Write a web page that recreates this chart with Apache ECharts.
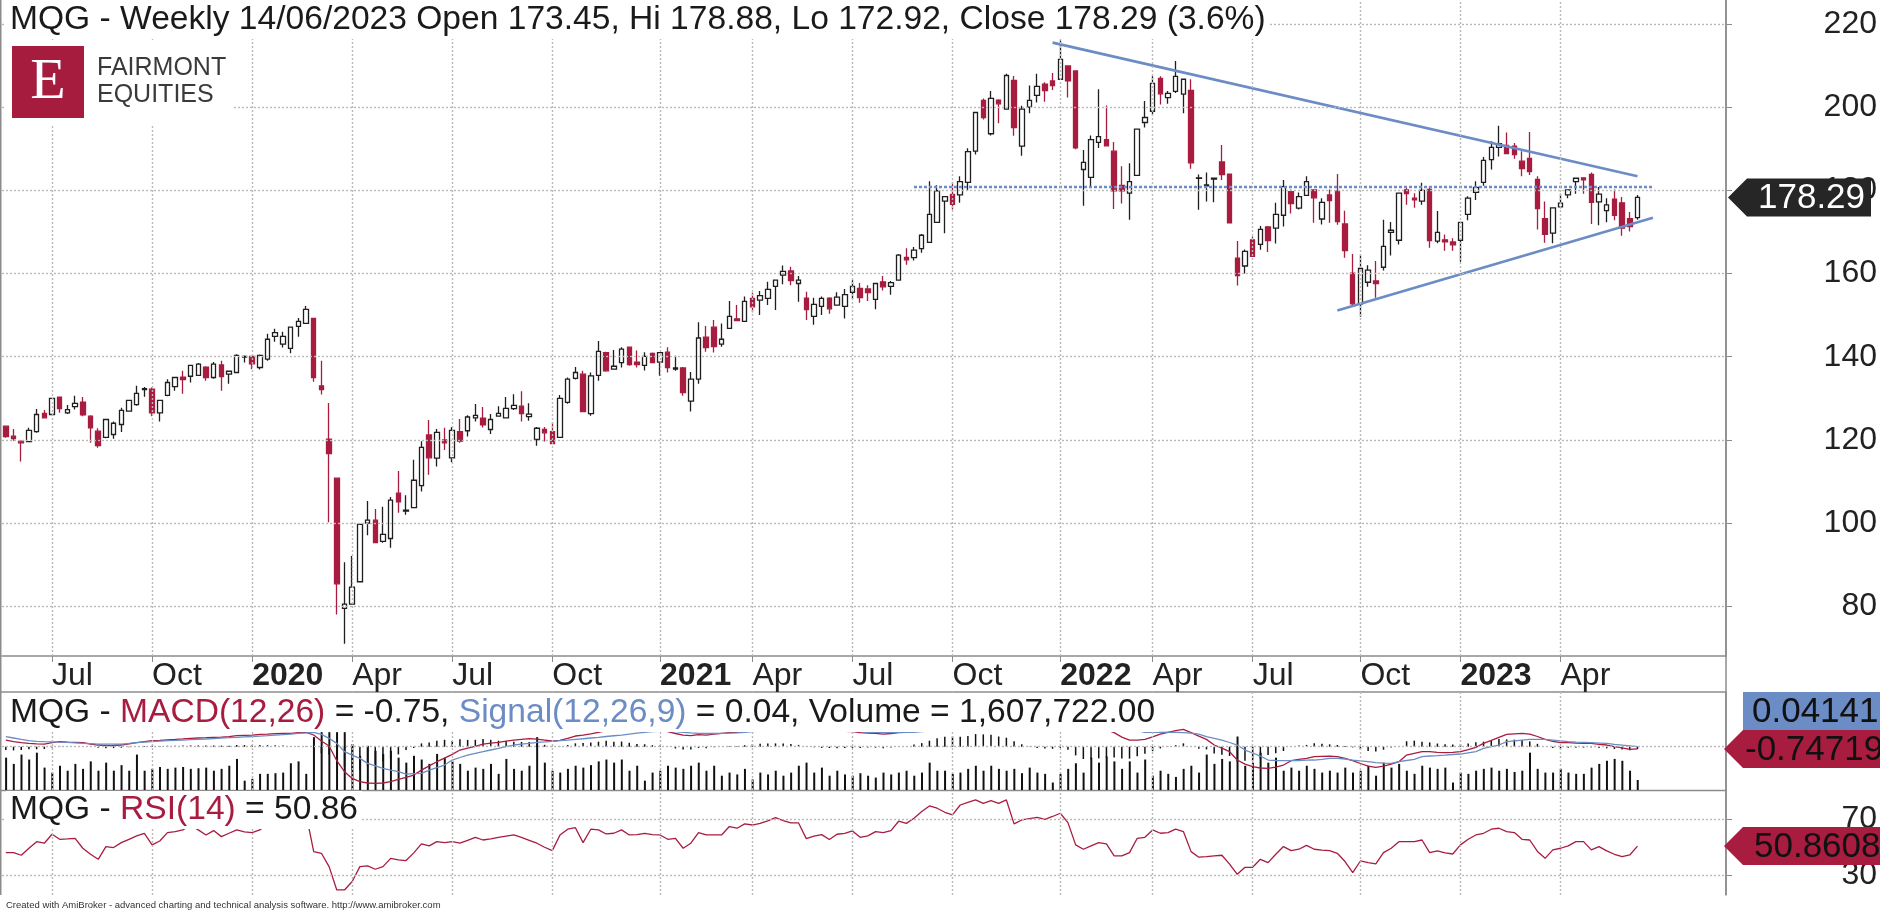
<!DOCTYPE html>
<html>
<head>
<meta charset="utf-8">
<title>MQG - Weekly</title>
<script src="https://cdn.jsdelivr.net/npm/echarts@6/dist/echarts.min.js"></script>
<style>
  html, body { margin: 0; padding: 0; background: #fff; }
  #main { width: 1880px; height: 911px; }
</style>
</head>
<body>
<div id="main"></div>
<script>
// weekly bars, first bar = week of 20/05/2019, last bar = week of 12/06/2023
const START_WEEK = '2019-05-20'
const N_SLOTS = 224 // 213 bars + blank weeks on the right

// quarter marks on the time axis (bar index -> label)
const TICK_INDEX = [6, 19, 32, 45, 58, 71, 85, 97, 110, 123, 137, 149, 162, 176, 189, 202]
const TICK_LABEL = ['Jul', 'Oct', '2020', 'Apr', 'Jul', 'Oct', '2021', 'Apr', 'Jul', 'Oct', '2022', 'Apr', 'Jul', 'Oct', '2023', 'Apr']

const PRICE_TICKS = [80, 100, 120, 140, 160, 180, 200, 220]
const RSI_TICKS = [30, 70]

const OPEN = [
  123.3,120.9,119.7,119.6,122.0,126.4,126.1,130.3,126.5,128.0,
  129.1,125.7,122.1,120.6,121.3,123.7,126.9,128.5,132.1,132.2,
  126.5,130.7,132.8,135.1,135.3,135.5,137.5,135.0,138.0,135.8,
  136.2,139.9,140.1,137.4,139.4,144.9,143.0,142.0,147.3,148.0,
  149.2,133.0,120.2,110.8,79.5,80.5,85.9,100.0,100.7,95.6,
  96.3,107.2,102.9,103.7,109.0,121.2,115.6,120.0,115.7,122.0,
  122.2,125.3,125.2,122.5,125.7,125.3,127.5,128.1,125.6,120.1,
  122.5,122.0,120.6,129.0,134.8,135.8,126.3,135.5,141.0,137.0,
  138.6,142.3,138.7,137.9,140.8,138.7,141.1,137.0,137.3,129.3,
  134.6,144.7,147.1,143.0,146.8,149.1,148.5,154.0,153.6,154.0,
  156.9,159.6,160.6,157.6,154.1,149.7,152.1,154.1,152.4,152.1,
  155.5,156.4,156.3,153.8,158.0,156.9,158.4,163.9,163.8,166.0,
  167.5,172.3,177.4,179.0,178.9,181.9,189.4,201.6,193.6,201.7,
  199.5,206.4,190.6,200.0,202.8,205.5,206.3,206.7,209.9,208.7,
  185.0,183.1,191.5,192.2,189.4,181.2,179.3,183.6,196.3,199.0,
  206.9,202.3,203.8,203.1,204.0,182.9,181.1,182.7,186.8,183.9,
  163.7,161.8,168.1,167.0,171.2,170.9,174.0,179.7,175.7,178.8,
  180.1,173.1,178.9,179.8,171.9,160.1,152.7,157.9,158.2,161.5,
  169.9,168.0,180.1,178.1,177.4,180.2,167.8,168.1,167.6,168.0,
  174.2,179.5,181.9,187.4,190.3,190.8,190.6,187.0,187.7,182.6,
  173.2,169.7,176.0,178.9,182.1,183.0,183.8,177.2,175.1,177.9,
  177.0,173.2,173.45
]
const HIGH = [
  123.3,122.6,119.7,122.9,127.4,127.2,130.1,130.3,128.4,130.6,
  130.3,125.9,122.8,124.9,124.4,127.7,129.5,133.0,132.7,132.6,
  129.5,134.6,135.0,136.6,137.9,138.5,137.7,138.7,139.0,136.7,
  140.6,140.3,140.1,140.5,145.5,146.7,146.0,147.1,149.3,152.2,
  149.2,139.0,128.9,110.8,90.6,92.1,99.7,105.3,103.4,103.9,
  106.3,112.5,106.7,115.2,119.7,124.8,122.6,122.9,123.1,125.0,
  125.9,128.6,127.9,126.2,128.1,130.3,131.0,131.7,128.8,123.1,
  123.1,124.2,130.8,135.0,137.5,136.6,136.2,143.8,141.2,141.6,
  142.3,142.3,141.5,141.1,141.0,141.0,142.3,140.2,137.5,136.3,
  148.3,147.4,148.8,148.0,153.4,152.4,154.5,155.4,155.8,158.0,
  158.4,161.9,161.6,159.4,155.6,154.2,154.5,154.3,155.5,156.3,
  158.4,157.7,157.2,157.6,159.4,158.2,164.7,166.1,166.4,169.5,
  182.2,181.2,178.5,181.9,183.4,190.1,198.7,202.1,203.9,201.9,
  208.0,207.5,200.3,205.2,208.0,206.0,208.2,216.0,209.9,208.7,
  189.7,193.2,204.3,200.4,191.6,185.8,186.5,194.7,201.5,207.4,
  207.4,203.9,211.1,206.7,206.7,183.8,184.3,183.1,190.9,183.9,
  167.8,165.8,168.9,171.4,171.4,177.0,182.5,180.2,179.5,183.4,
  180.1,178.1,180.2,183.9,175.1,164.7,164.4,162.0,163.0,172.9,
  172.4,179.3,180.7,179.3,181.8,181.0,175.0,169.4,168.5,172.3,
  178.6,182.2,188.0,191.8,195.5,193.9,191.4,189.4,194.0,183.4,
  177.3,175.8,179.2,180.1,182.9,183.0,184.3,180.8,178.1,180.2,
  178.4,174.8,178.88
]
const LOW = [
  120.5,119.8,114.8,119.5,121.7,125.3,126.0,126.5,126.2,127.3,
  125.7,119.3,118.1,120.4,120.3,121.9,126.9,128.2,130.4,125.7,
  124.4,130.5,131.8,131.1,133.8,135.5,134.2,134.7,131.8,133.5,
  136.2,138.6,137.0,136.9,139.0,143.6,142.2,140.8,144.8,148.0,
  134.0,130.9,100.2,78.0,71.0,80.5,85.9,97.1,95.3,95.3,
  94.1,102.5,102.0,103.7,107.6,111.6,113.6,117.6,114.6,119.3,
  120.8,124.4,123.0,121.4,125.7,125.3,127.2,124.4,124.6,118.6,
  119.6,119.1,120.6,128.7,134.5,126.8,125.8,134.2,136.4,137.0,
  137.4,137.8,137.4,136.7,138.6,135.4,136.2,136.6,130.6,126.8,
  133.5,141.2,141.0,142.4,146.8,148.7,148.5,150.7,150.0,152.4,
  151.2,157.4,157.2,153.2,148.8,147.7,150.0,150.3,152.4,149.2,
  153.9,153.0,153.4,151.4,155.9,154.9,158.3,162.1,163.1,165.0,
  167.5,172.3,169.7,175.4,177.0,179.9,188.6,197.0,193.2,196.1,
  199.5,193.1,188.3,198.5,201.1,201.3,204.1,206.7,202.3,189.9,
  176.3,180.7,190.2,190.7,175.5,176.8,172.9,183.6,195.1,198.2,
  200.6,200.8,203.4,198.5,185.2,175.3,177.3,177.1,182.5,172.2,
  157.1,160.0,164.1,165.7,165.2,167.2,171.3,174.4,175.4,178.8,
  172.2,171.8,172.2,171.7,163.8,152.0,149.6,156.8,154.2,160.7,
  164.3,167.0,176.5,175.8,176.5,166.2,167.3,165.5,165.5,162.8,
  172.8,177.7,181.1,185.0,188.1,188.8,187.6,183.4,183.7,170.6,
  167.4,167.3,175.7,178.1,179.2,179.2,171.9,171.6,172.3,172.8,
  169.1,170.1,172.92
]
const CLOSE = [
  120.8,120.3,119.3,122.3,126.1,125.3,130.0,127.5,127.3,128.8,
  126.0,122.9,118.6,124.9,124.0,127.1,129.5,131.2,132.3,126.5,
  129.5,133.8,135.0,134.5,137.9,138.2,135.0,138.2,135.2,136.5,
  140.3,140.1,138.3,140.3,144.2,145.8,144.9,147.1,148.5,151.4,
  135.0,132.1,116.7,85.4,80.5,84.6,99.7,100.7,95.3,97.3,
  105.5,105.1,103.1,110.3,118.2,115.7,121.8,119.3,122.3,119.7,
  125.5,125.9,123.6,124.9,126.4,127.6,128.3,126.3,126.2,122.8,
  121.7,119.1,130.0,134.6,136.2,126.8,135.4,141.3,136.6,137.7,
  141.8,138.1,138.1,140.1,138.6,141.0,137.4,137.3,131.4,134.6,
  144.5,142.2,142.4,144.2,149.7,148.7,153.3,152.0,154.7,156.2,
  158.4,160.5,158.3,158.4,151.3,152.6,154.0,151.5,154.3,154.9,
  156.9,154.2,155.4,157.6,156.8,157.8,164.4,163.3,165.6,169.2,
  174.2,179.9,178.5,176.6,182.1,189.3,198.7,197.5,202.1,200.8,
  207.6,195.1,199.5,201.6,205.0,204.0,205.2,211.5,206.3,190.2,
  186.7,192.2,192.9,190.7,179.9,179.9,182.1,194.7,197.5,205.7,
  203.2,203.3,207.4,206.7,186.6,183.0,181.3,182.9,183.8,172.2,
  159.5,165.3,164.1,170.6,167.9,174.2,180.9,176.8,178.5,182.1,
  178.2,177.1,177.5,172.5,165.5,152.7,161.2,160.8,157.6,166.5,
  170.4,179.3,179.2,177.7,180.0,167.9,169.9,167.6,166.9,172.3,
  178.1,180.7,187.2,190.3,191.2,188.8,188.6,185.2,184.5,175.6,
  169.4,175.8,176.9,180.1,182.9,182.5,177.1,179.1,176.5,174.0,
  170.9,171.3,178.29
]

// volume, millions of shares
const VOLUME = [
  5.2,4.2,5.7,4.9,6.0,3.6,2.8,3.9,3.1,4.2,
  3.4,4.6,3.1,4.4,3.1,4.0,3.1,5.7,3.1,3.4,
  3.7,3.4,3.6,3.7,3.4,3.5,3.6,3.1,3.4,3.9,
  5.0,1.5,1.8,2.6,2.6,2.7,2.8,4.3,4.6,2.6,
  8.5,9.3,9.3,9.3,9.3,7.4,5.5,7.1,6.3,5.8,
  6.3,5.2,4.4,5.5,4.9,4.2,5.8,5.2,4.6,4.2,
  3.1,3.6,3.4,4.2,2.6,5.0,3.4,3.1,3.9,8.5,
  4.4,3.1,2.8,3.4,3.9,3.6,4.0,4.6,4.9,4.4,
  4.9,3.1,3.9,1.5,2.8,3.1,3.9,3.6,3.4,3.9,
  4.4,3.1,3.9,2.3,2.8,2.5,3.4,1.7,2.8,2.5,
  3.1,2.3,2.8,3.9,4.4,2.8,3.6,2.3,3.1,2.5,
  2.3,2.7,2.3,2.0,2.8,2.5,2.8,3.1,2.3,2.8,
  4.4,3.1,3.1,2.6,2.8,3.4,3.9,3.1,3.9,3.4,
  3.1,3.4,2.7,3.6,2.8,2.6,1.2,2.6,3.4,4.3,
  2.8,5.2,4.4,5.4,4.6,3.4,4.6,2.8,4.9,2.3,
  3.1,2.6,2.1,3.4,3.9,2.8,5.7,4.2,5.0,4.6,
  8.6,3.9,4.4,6.0,4.4,5.2,3.1,3.6,3.1,3.9,
  3.4,2.8,3.1,2.8,3.6,2.8,3.1,3.9,2.3,4.4,
  3.6,4.2,3.1,2.6,3.9,3.6,3.4,3.6,1.2,2.8,
  2.6,3.1,3.4,3.6,3.1,3.4,2.9,3.1,6.0,3.4,
  2.8,2.8,3.4,2.8,2.6,2.6,3.6,4.2,4.7,5.0,
  4.7,3.1,1.61
]

const MACD = [
  2.22,1.67,1.35,1.11,0.95,0.89,1.33,1.67,1.55,1.44,
  1.33,0.9,0.56,0.33,0.4,0.56,0.95,1.33,1.7,2.0,
  2.1,2.3,2.44,2.6,2.78,2.9,3.0,3.11,3.2,3.33,
  3.67,3.8,3.89,4.11,4.2,4.33,4.4,4.44,4.67,4.78,
  3.9,1.9,0.22,-4.67,-8.33,-10.56,-11.67,-12.1,-12.2,-12.1,
  -11.67,-10.9,-10.2,-9.44,-7.8,-6.4,-5.0,-3.8,-2.56,-1.11,
  -0.5,0.1,0.89,1.2,1.44,1.89,2.2,2.44,2.67,2.5,
  2.22,1.9,2.1,2.78,3.56,3.89,4.3,4.78,5.4,5.3,
  5.6,5.5,5.4,5.6,5.5,5.5,5.0,4.4,3.89,3.67,
  4.0,3.89,4.2,4.44,4.67,4.78,5.3,5.8,6.2,6.5,
  6.8,7.0,7.0,6.8,6.3,5.9,5.6,5.4,5.2,5.1,
  5.0,4.67,4.55,4.44,4.22,4.4,4.67,4.78,5.5,6.2,
  7.2,8.5,9.5,10.2,10.8,11.8,13.2,14.0,14.8,14.9,
  15.2,14.5,14.0,13.5,13.2,13.0,12.8,13.0,12.2,10.0,
  8.2,7.2,6.4,5.6,4.67,3.2,2.22,2.2,2.44,3.3,
  4.22,4.8,5.33,5.78,4.67,3.5,2.44,0.56,-0.5,-1.67,
  -4.44,-5.8,-6.67,-7.1,-7.2,-6.8,-6.1,-4.67,-4.2,-3.89,
  -3.33,-3.2,-3.11,-3.33,-3.9,-4.67,-5.6,-6.44,-6.89,-6.44,
  -5.8,-5.0,-2.78,-2.2,-1.67,-1.67,-1.9,-2.0,-1.9,-1.67,
  -1.0,-0.22,1.11,2.1,3.11,4.11,4.3,4.44,4.22,3.4,
  2.44,1.8,1.33,1.33,1.2,1.11,1.11,0.8,0.56,0.0,
  -0.4,-0.89,-0.747
]
const SIGNAL = [
  3.33,2.9,2.44,2.0,1.8,1.67,1.6,1.5,1.44,1.3,
  1.11,1.0,0.89,0.85,0.85,0.89,1.1,1.33,1.5,1.67,
  1.85,2.0,2.1,2.22,2.35,2.45,2.56,2.7,2.85,3.0,
  3.11,3.25,3.4,3.55,3.67,3.85,4.0,4.2,4.44,4.6,
  4.78,4.11,2.8,1.11,-1.67,-2.8,-3.89,-5.56,-6.4,-7.22,
  -7.8,-8.33,-9.11,-9.0,-8.89,-7.78,-7.0,-6.11,-4.44,-3.6,
  -2.78,-2.2,-1.67,-1.1,-0.56,0.0,0.56,0.85,1.11,1.44,
  1.6,1.8,2.0,2.2,2.44,2.65,2.9,3.11,3.4,3.65,
  3.89,4.2,4.5,4.78,5.0,5.1,5.1,5.0,4.8,4.6,
  4.44,4.4,4.4,4.45,4.5,4.6,4.8,5.0,5.2,5.45,
  5.7,5.9,6.1,6.2,6.2,6.1,6.0,5.85,5.7,5.55,
  5.4,5.1,4.78,4.78,4.7,4.7,4.75,4.78,4.8,5.0,
  5.2,5.7,6.2,6.8,7.5,8.2,9.0,9.9,10.8,11.5,
  12.2,12.7,13.2,13.4,13.6,13.6,13.5,13.4,13.2,12.9,
  12.3,11.3,10.3,9.2,8.3,7.1,6.2,5.4,4.8,4.78,
  4.8,4.89,4.8,4.67,4.5,4.22,3.33,2.8,2.22,1.4,
  0.56,-1.11,-2.1,-3.11,-4.44,-4.6,-4.67,-4.67,-4.6,-4.5,
  -4.44,-4.2,-3.89,-3.89,-4.1,-4.44,-4.7,-5.0,-5.33,-5.45,
  -5.56,-5.0,-4.6,-4.22,-3.33,-3.1,-2.95,-2.78,-2.6,-2.44,
  -2.05,-1.67,-0.56,0.0,0.56,1.67,1.95,2.22,2.44,2.44,
  2.44,2.22,1.95,1.67,1.55,1.44,1.33,1.22,1.11,0.78,
  0.55,0.3,0.041
]
const RSI = [
  46.2,46.2,44.3,49.3,54.0,52.9,59.3,55.7,56.0,56.4,
  49.3,45.0,41.4,50.5,49.8,53.3,55.7,58.1,60.0,51.7,
  54.5,60.5,61.2,62.4,66.0,62.4,58.8,61.9,57.6,60.0,
  62.4,61.0,60.5,62.4,67.0,69.0,70.0,71.0,71.0,74.0,
  46.9,45.7,36.2,19.5,19.5,25.5,36.2,36.7,34.3,36.2,
  42.1,41.0,40.5,46.0,52.4,51.0,54.0,53.3,54.0,52.9,
  55.0,57.1,55.2,56.0,57.1,58.0,58.8,57.1,55.0,52.9,
  50.0,47.6,58.8,62.9,64.0,53.3,62.9,62.4,59.5,60.0,
  62.4,58.8,59.0,60.0,59.0,58.8,55.7,56.4,49.3,52.9,
  60.5,58.8,58.8,58.8,64.8,63.6,66.7,65.9,67.0,68.8,
  71.2,69.0,67.4,67.4,56.2,57.9,59.0,55.5,59.3,60.0,
  61.7,57.1,58.1,61.2,60.5,61.9,68.6,67.1,70.7,75.5,
  79.5,77.9,75.0,73.1,80.2,82.0,83.8,81.4,83.3,81.4,
  83.8,66.7,69.5,70.5,71.4,70.0,72.0,74.3,67.6,51.7,
  48.6,51.0,53.3,52.4,43.8,43.8,46.2,56.4,57.1,62.4,
  60.0,60.5,62.9,61.2,46.9,42.9,43.3,43.8,44.3,38.0,
  30.7,35.7,35.7,41.4,39.0,45.0,50.5,47.6,48.6,51.4,
  48.6,48.0,47.6,45.7,39.8,31.9,40.2,39.0,38.1,46.2,
  49.3,54.0,54.0,54.0,55.2,46.2,47.4,46.0,45.2,51.7,
  55.7,58.8,60.0,62.9,63.6,61.2,60.5,55.7,55.2,47.0,
  42.1,48.1,49.3,51.0,54.0,54.0,48.1,50.5,47.4,45.0,
  43.3,44.5,50.86
]

// hand-drawn lines on the price pane: [bar index, price]
const TREND_UPPER = [[136, 215.5], [212, 183.4]]
const TREND_LOWER = [[173, 151.1], [214, 173.4]]
const RESISTANCE = [[118, 180.8], [214, 180.8]]

const LAST = CLOSE.length - 1
const FONT = "'Liberation Sans', Arial, sans-serif"
const RED = '#a81c40'
const BLUE = '#6b8cc4'
const GRID_COLOR = '#b9b9b9'
const FRAME = '#8c8c8c'

// category labels: one per week
const weeks = []
const t0 = Date.parse(START_WEEK + 'T00:00:00Z')
for (let k = 0; k < N_SLOTS; k++) {
  weeks.push(new Date(t0 + k * 7 * 86400000).toISOString().slice(0, 10))
}

const candles = OPEN.map((o, i) => [o, CLOSE[i], LOW[i], HIGH[i]])
const hist = MACD.map((m, i) => +(m - SIGNAL[i]).toFixed(3))
const isTick = (i) => TICK_INDEX.indexOf(i) >= 0

const gridStyle = { color: GRID_COLOR, type: [2, 2], width: 1.4 }
const vLines = TICK_INDEX.map(i => ({ xAxis: i }))

function gridSeries(g, yIdx, hValues) {
  return {
    type: 'line', xAxisIndex: g, yAxisIndex: yIdx, data: [], z: 1, silent: true,
    markLine: {
      silent: true, symbol: ['none', 'none'], label: { show: false },
      lineStyle: gridStyle, animation: false,
      data: vLines.concat(hValues.map(v => ({ yAxis: v })))
    }
  }
}

// value tag at the right edge of a pane
function tagSeries(g, yIdx, value, text, fill, textColor, geo) {
  return {
    type: 'custom', xAxisIndex: g, yAxisIndex: yIdx, z: 20, silent: true, clip: false,
    data: [[LAST, value]],
    renderItem: (params, api) => {
      const cs = params.coordSys
      const x0 = cs.x + cs.width
      const y = geo.top != null ? cs.y + geo.top + 19 : api.coord([api.value(0), api.value(1)])[1]
      const pts = geo.tip == null
        ? [[x0 + geo.body, y - 19], [x0 + geo.end, y - 19], [x0 + geo.end, y + 19], [x0 + geo.body, y + 19]]
        : [[x0 + geo.tip, y], [x0 + geo.body, y - 19], [x0 + geo.end, y - 19], [x0 + geo.end, y + 19], [x0 + geo.body, y + 19]]
      return {
        type: 'group',
        children: [
          { type: 'polygon', shape: { points: pts }, style: { fill: fill } },
          { type: 'text', style: { text: text, x: x0 + geo.text, y: y + 1, verticalAlign: 'middle',
              fill: textColor, font: '35px ' + FONT } }
        ]
      }
    }
  }
}

// right-hand scale numbers of the RSI pane, placed through the RSI axis
function scaleLabels(g, yIdx, values) {
  return {
    type: 'custom', xAxisIndex: g, yAxisIndex: yIdx, z: 15, silent: true, clip: false,
    data: values.map(v => [LAST, v]),
    renderItem: (params, api) => {
      const cs = params.coordSys
      const y = api.coord([api.value(0), api.value(1)])[1]
      return { type: 'text', style: { text: String(api.value(1)), x: cs.x + cs.width + 151, y: y,
        align: 'right', verticalAlign: 'middle', fill: '#222', font: '32px ' + FONT } }
    }
  }
}

const chart = echarts.init(document.getElementById('main'))

const titleRich = {
  k: { fontSize: 33.6, fontWeight: 'normal', color: '#1a1a1a', fontFamily: FONT },
  r: { fontSize: 33.6, fontWeight: 'normal', color: RED, fontFamily: FONT },
  b: { fontSize: 33.6, fontWeight: 'normal', color: BLUE, fontFamily: FONT }
}

const option = {
  animation: false,
  backgroundColor: '#fff',
  title: [
    {
      text: 'MQG - Weekly 14/06/2023 Open 173.45, Hi 178.88, Lo 172.92, Close 178.29 (3.6%)',
      left: 6, top: 0, padding: [3, 4, 2, 4], backgroundColor: '#fff',
      textStyle: { fontSize: 33.6, fontWeight: 'normal', color: '#1a1a1a', fontFamily: FONT }
    },
    {
      text: '{k|MQG - }{r|MACD(12,26)}{k| = -0.75, }{b|Signal(12,26,9)}{k| = 0.04, Volume = 1,607,722.00}',
      left: 6, top: 693, padding: [3, 4, 2, 4], backgroundColor: '#fff',
      textStyle: { fontWeight: 'normal', rich: titleRich }
    },
    {
      text: '{k|MQG - }{r|RSI(14)}{k| = 50.86}',
      left: 6, top: 791, padding: [2, 4, 2, 4], backgroundColor: '#fff',
      textStyle: { fontWeight: 'normal', rich: titleRich }
    }
  ],
  grid: [
    { left: 2, right: 154, top: 0, height: 656 },
    { left: 2, right: 154, top: 692, height: 98 },
    { left: 2, right: 154, top: 791, height: 104 }
  ],
  xAxis: [0, 1, 2].map(g => ({
    type: 'category', gridIndex: g, data: weeks, boundaryGap: true,
    axisLine: { show: g === 0, lineStyle: { color: FRAME, width: 1.5 } },
    axisTick: { show: g === 0, interval: (i) => isTick(i), alignWithLabel: true, length: 6,
      lineStyle: { color: FRAME } },
    axisLabel: {
      show: g === 0, interval: (i) => isTick(i), align: 'left', margin: 4,
      fontSize: 32, color: '#222', fontFamily: FONT,
      formatter: (v, i) => {
        const s = TICK_LABEL[TICK_INDEX.indexOf(i)] || ''
        return /^\d{4}$/.test(s) ? '{y|' + s + '}' : s
      },
      rich: { y: { fontSize: 32, fontWeight: 'bold', color: '#222', fontFamily: FONT } }
    },
    splitLine: { show: false }
  })),
  yAxis: [
    {
      type: 'value', gridIndex: 0, position: 'right', min: 68.05, max: 225.75,
      axisLine: { show: true, lineStyle: { color: FRAME, width: 1.5 } },
      axisTick: { show: true, customValues: PRICE_TICKS, length: 6, lineStyle: { color: FRAME } },
      axisLabel: { customValues: PRICE_TICKS, fontSize: 32, color: '#222', fontFamily: FONT,
        align: 'right', margin: 151 },
      splitLine: { show: false }
    },
    {
      type: 'value', gridIndex: 1, position: 'right', min: -14.43, max: 18.23,
      axisLine: { show: true, lineStyle: { color: FRAME, width: 1.5 } },
      axisTick: { show: false }, axisLabel: { show: false }, splitLine: { show: false }
    },
    {
      type: 'value', gridIndex: 1, position: 'right', min: 0, max: 15.76, show: false,
      splitLine: { show: false }
    },
    {
      type: 'value', gridIndex: 2, position: 'right', min: 15.9, max: 90.2,
      axisLine: { show: true, lineStyle: { color: FRAME, width: 1.5 } },
      axisTick: { show: true, customValues: RSI_TICKS, length: 6, lineStyle: { color: FRAME } },
      axisLabel: { show: false },
      splitLine: { show: false }
    }
  ],
  series: [
    gridSeries(0, 0, PRICE_TICKS),
    {
      name: 'MQG', type: 'candlestick', xAxisIndex: 0, yAxisIndex: 0, z: 3,
      data: candles, barWidth: 5, clip: false,
      itemStyle: { color: '#ffffff', color0: RED, borderColor: '#1e1e1e', borderColor0: RED, borderWidth: 1.3 }
    },
    {
      type: 'line', xAxisIndex: 0, yAxisIndex: 0, data: TREND_UPPER, symbol: 'none', z: 4,
      lineStyle: { color: BLUE, width: 2.6 }
    },
    {
      type: 'line', xAxisIndex: 0, yAxisIndex: 0, data: TREND_LOWER, symbol: 'none', z: 4,
      lineStyle: { color: BLUE, width: 2.6 }
    },
    {
      type: 'line', xAxisIndex: 0, yAxisIndex: 0, data: RESISTANCE, symbol: 'none', z: 4,
      lineStyle: { color: BLUE, width: 2.6, type: [3, 2] }
    },
    tagSeries(0, 0, CLOSE[LAST], CLOSE[LAST].toFixed(2), '#262626', '#ffffff',
      { tip: 2, body: 21, end: 145, text: 32 }),

    // MACD pane
    gridSeries(1, 1, [0]),
    {
      type: 'bar', xAxisIndex: 1, yAxisIndex: 2, data: VOLUME, barWidth: 2, barGap: '-100%',
      itemStyle: { color: '#111' }, z: 2
    },
    {
      type: 'bar', xAxisIndex: 1, yAxisIndex: 1, data: hist, barWidth: 1.5, barGap: '-100%',
      itemStyle: { color: '#111' }, z: 2
    },
    {
      type: 'line', xAxisIndex: 1, yAxisIndex: 1, data: MACD, symbol: 'none', z: 4,
      lineStyle: { color: RED, width: 1.3 }
    },
    {
      type: 'line', xAxisIndex: 1, yAxisIndex: 1, data: SIGNAL, symbol: 'none', z: 4,
      lineStyle: { color: BLUE, width: 1.3 }
    },
    tagSeries(1, 1, SIGNAL[LAST], '0.04141', BLUE, '#111', { top: 0, body: 17, end: 160, text: 26 }),
    tagSeries(1, 1, MACD[LAST], '-0.74719', RED, '#111', { tip: -2, body: 17, end: 160, text: 19 }),

    // RSI pane
    gridSeries(2, 3, RSI_TICKS),
    {
      type: 'line', xAxisIndex: 2, yAxisIndex: 3, data: RSI, symbol: 'none', z: 4,
      lineStyle: { color: RED, width: 1.3 }
    },
    scaleLabels(2, 3, RSI_TICKS),
    tagSeries(2, 3, RSI[LAST], '50.8608', RED, '#111', { tip: -2, body: 17, end: 160, text: 28 })
  ],
  graphic: [
    // pane frame
    { type: 'line', shape: { x1: 0.75, y1: 0, x2: 0.75, y2: 895 }, style: { stroke: FRAME, lineWidth: 1.5 } },
    { type: 'line', shape: { x1: 1726, y1: 0, x2: 1726, y2: 895 }, style: { stroke: FRAME, lineWidth: 1.5 } },
    { type: 'line', shape: { x1: 0, y1: 692, x2: 1726, y2: 692 }, style: { stroke: FRAME, lineWidth: 1.5 } },
    { type: 'line', shape: { x1: 0, y1: 790.5, x2: 1726, y2: 790.5 }, style: { stroke: FRAME, lineWidth: 1.5 } },
    // logo
    { type: 'rect', shape: { x: 4, y: 40, width: 228, height: 84 }, style: { fill: '#fff' }, z: 10 },
    { type: 'rect', shape: { x: 12, y: 46, width: 72, height: 72 }, style: { fill: '#a51c3f' }, z: 11 },
    { type: 'text', x: 48, y: 83, z: 12,
      style: { text: 'E', fill: '#fff', font: '58px "Liberation Serif", serif', align: 'center', verticalAlign: 'middle' } },
    { type: 'text', x: 97, y: 68, z: 12,
      style: { text: 'FAIRMONT', fill: '#3a3a3a', font: '25px ' + FONT, verticalAlign: 'middle' } },
    { type: 'text', x: 97, y: 95, z: 12,
      style: { text: 'EQUITIES', fill: '#3a3a3a', font: '25px ' + FONT, verticalAlign: 'middle' } },
    // footer
    { type: 'text', x: 6, y: 905,
      style: { text: 'Created with AmiBroker - advanced charting and technical analysis software. http://www.amibroker.com',
        fill: '#333', font: '9.5px ' + FONT, verticalAlign: 'middle' } }
  ]
}

chart.setOption(option)
</script>
</body>
</html>
